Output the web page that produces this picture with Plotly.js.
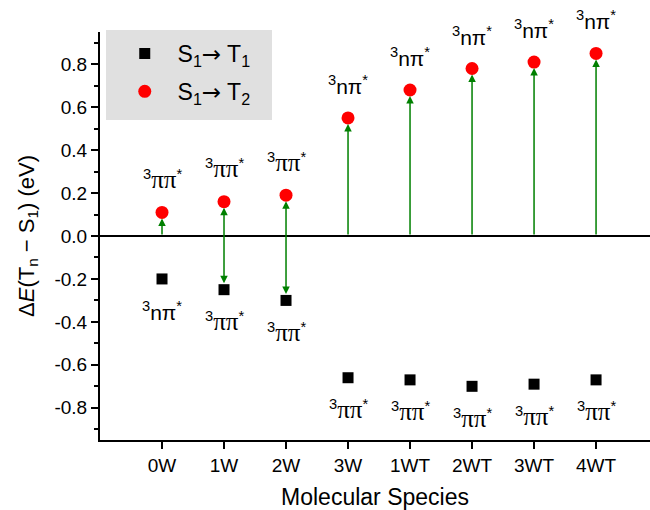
<!DOCTYPE html>
<html>
<head>
<meta charset="utf-8">
<script src="https://cdn.plot.ly/plotly-3.0.1.min.js"></script>
<style>html,body{margin:0;padding:0;background:#fff;}</style>
</head>
<body>
<div id="chart" style="width:650px;height:510px;"></div>
<script>
const categories = ['0W','1W','2W','3W','1WT','2WT','3WT','4WT'];
const t1Values = [-0.20, -0.25, -0.30, -0.66, -0.67, -0.70, -0.69, -0.67];
const t2Values = [0.11, 0.16, 0.19, 0.55, 0.68, 0.78, 0.81, 0.85];
const t1States = ['nπ','ππ','ππ','ππ','ππ','ππ','ππ','ππ'];
const t2States = ['ππ','ππ','ππ','nπ','nπ','nπ','nπ','nπ'];
const arrowFromT1 = [false, true, true, false, false, false, false, false];
const yTickVals = [-0.8,-0.6,-0.4,-0.2,0.0,0.2,0.4,0.6,0.8];
const yTickText = ['-0.8','-0.6','-0.4','-0.2','0.0','0.2','0.4','0.6','0.8'];

const FONT = 'Liberation Sans, Arial, sans-serif';
const xIdx = categories.map((c,i)=>i);

function stateLabel(s){
  if (s === 'ππ') return '<sup>3</sup><span style="font-family:Liberation Serif, serif;font-size:25px">ππ</span><sup>*</sup>';
  return '<sup>3</sup>nπ<sup>*</sup>';
}
const ARROW = '<span style="font-family:DejaVu Sans">→</span>';

const traces = [
  {x: xIdx, y: t1Values, type:'scatter', mode:'markers', legendgroup:'a',
   name:'\u00a0\u00a0S<sub>1</sub>' + ARROW + ' T<sub>1</sub>',
   marker:{symbol:'square', size:11, color:'#000000'}},
  {x: xIdx, y: t2Values, type:'scatter', mode:'markers', legendgroup:'b',
   name:'\u00a0\u00a0S<sub>1</sub>' + ARROW + ' T<sub>2</sub>',
   marker:{symbol:'circle', size:13, color:'#ff0000'}}
];

const annotations = [];
xIdx.forEach((xi,i)=>{
  const from = arrowFromT1[i] ? t1Values[i] : 0;
  annotations.push({
    x: xi, y: t2Values[i], ax: xi, ay: from, xref:'x', yref:'y', axref:'x', ayref:'y',
    text:'', showarrow:true, arrowhead:2, arrowsize:1, arrowwidth:1.5, arrowcolor:'#008000',
    arrowside: arrowFromT1[i] ? 'end+start' : 'end', standoff:6, startstandoff: arrowFromT1[i] ? 5 : 0
  });
  annotations.push({
    x: xi, y: t2Values[i], xref:'x', yref:'y', text: stateLabel(t2States[i]), showarrow:false,
    yshift:33, font:{family:FONT, size:21, color:'#000'}
  });
  annotations.push({
    x: xi, y: t1Values[i], xref:'x', yref:'y', text: stateLabel(t1States[i]), showarrow:false,
    yshift:-32, font:{family:FONT, size:21, color:'#000'}
  });
});

const layout = {
  width:650, height:510,
  margin:{l:100, r:0, t:32, b:70},
  paper_bgcolor:'#fff', plot_bgcolor:'#fff',
  font:{family:FONT, size:19, color:'#000'},
  showlegend:true,
  legend:{x:0.045, y:1.0, xanchor:'left', yanchor:'top', bgcolor:'rgba(0,0,0,0)',
          font:{family:FONT, size:23, color:'#000'}, tracegroupgap:5, traceorder:'grouped'},
  shapes:[{type:'rect', xref:'paper', yref:'paper', x0:(106-100)/550, x1:(272-100)/550,
           y0:(440-120)/408, y1:(440-30)/408, fillcolor:'#e0e0e0', line:{width:0}, layer:'below'}],
  xaxis:{range:[-1, 7.87], tickvals:xIdx, ticktext:categories, showgrid:false, zeroline:false,
         showline:true, linecolor:'#000', linewidth:2, ticks:'outside', ticklen:7, tickwidth:2, tickcolor:'#000',
         tickfont:{family:FONT, size:19}, title:{text:'Molecular Species', font:{family:FONT, size:23}, standoff:16}},
  yaxis:{range:[-0.95, 0.95], tickvals:yTickVals, ticktext:yTickText, showgrid:false,
         zeroline:true, zerolinecolor:'#000', zerolinewidth:2,
         showline:true, linecolor:'#000', linewidth:2, ticks:'outside', ticklen:7, tickwidth:2, tickcolor:'#000',
         minor:{dtick:0.1, tick0:0, ticks:'outside', ticklen:4, tickwidth:2, tickcolor:'#000', showgrid:false},
         tickfont:{family:FONT, size:19},
         title:{text:'Δ<i>E</i>(T<sub>n</sub> − S<sub>1</sub>) (eV)', font:{family:FONT, size:22}, standoff:14}},
  annotations: annotations
};

Plotly.newPlot('chart', traces, layout, {displayModeBar:false, staticPlot:true});
</script>
</body>
</html>
